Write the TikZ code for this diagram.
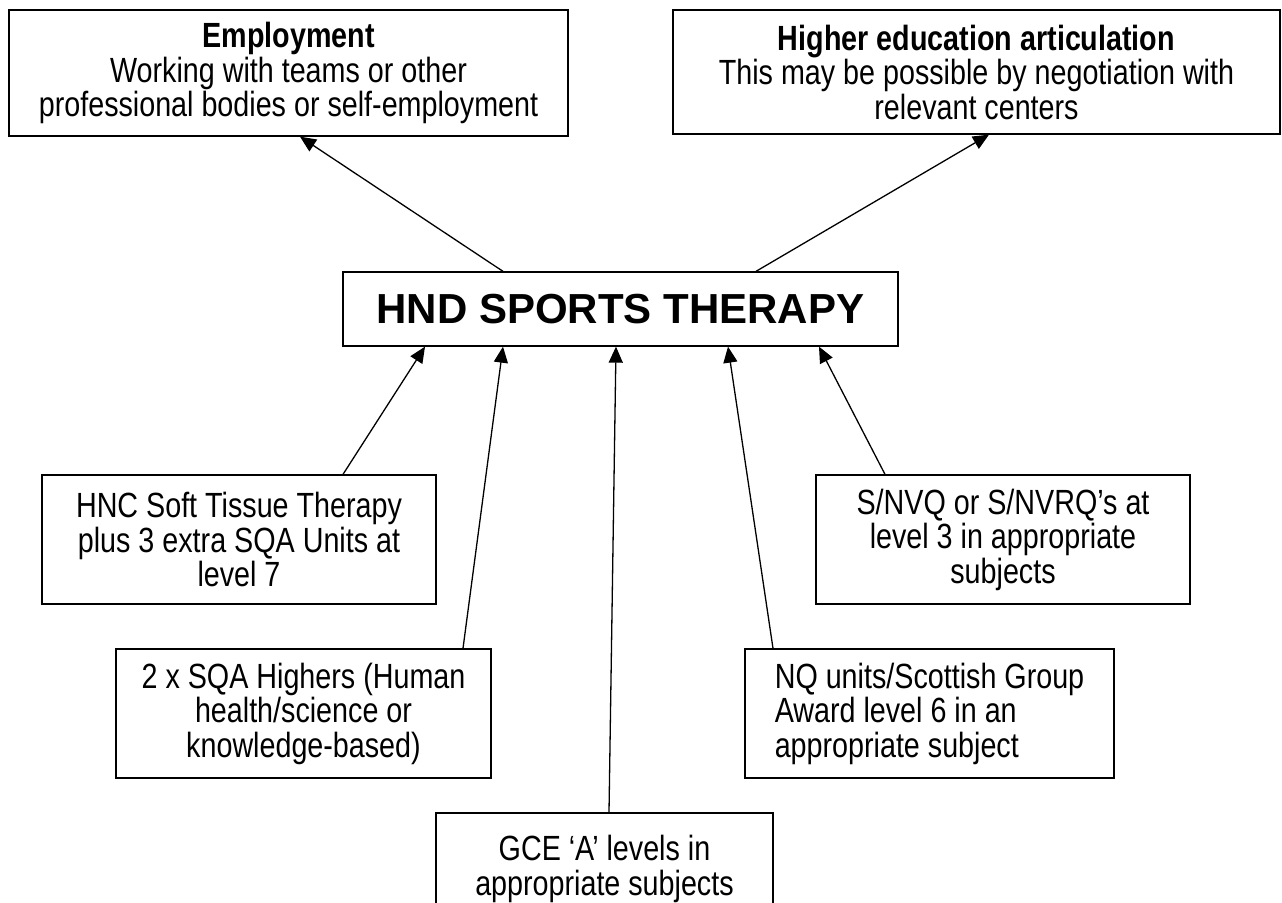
\documentclass[tikz,border=0pt]{standalone}
\usepackage{fontspec}
\setmainfont{Liberation Sans}
\newfontfamily\schmal{Liberation Sans}[FakeStretch=0.82]
\usetikzlibrary{arrows.meta}
\newcommand{\textgr}{\schmal\fontsize{35}{34.5}\selectfont}
\newcommand{\titelgr}{\fontsize{42}{48}\selectfont\bfseries}
\tikzset{
  kasten/.style={draw, line width=1.3pt, inner sep=0pt, align=center, font=\textgr},
  pfeil/.style={line width=1.3pt, -{Triangle[length=16pt,width=14pt]}}
}
\begin{document}
\begin{tikzpicture}[x=1pt,y=-1pt]
            \useasboundingbox (0,0) rectangle (1282,902);
            \clip (0,0) rectangle (1282,902);
            % Ziele
            \node[kasten, minimum width=559pt, minimum height=126pt] (emp) at (288.5,73) {\textbf{Employment}\\Working with teams or other\\professional bodies or self-employment};
            \node[kasten, minimum width=607pt, minimum height=124pt] (hea) at (976.5,72) {\textbf{Higher education articulation}\\This may be possible by negotiation with\\relevant centers};
            % HND
            \node[kasten, minimum width=555pt, minimum height=74pt, font=\titelgr] (hnd) at (620.5,309) {HND SPORTS THERAPY};
            % Zugang
            \node[kasten, minimum width=394pt, minimum height=129pt] (hnc) at (239,539.5) {HNC Soft Tissue Therapy\\plus 3 extra SQA Units at\\level 7};
            \node[kasten, minimum width=374pt, minimum height=129pt] (snvq) at (1003,539.5) {S/NVQ or S/NVRQ’s at\\level 3 in appropriate\\subjects};
            \node[kasten, minimum width=375pt, minimum height=129pt] (sqa) at (303.5,713.5) {2 x SQA Highers (Human\\health/science or\\knowledge-based)};
            \node[kasten, align=left, minimum width=369pt, minimum height=129pt] (nq) at (929.5,713.5) {NQ units/Scottish Group\\Award level 6 in an\\appropriate subject};
            \node[kasten, minimum width=337pt, minimum height=112pt] (gce) at (604.5,869) {GCE ‘A’ levels in\\appropriate subjects};
            % Pfeile nach oben
            \draw[pfeil] ([xshift=-117.5pt]hnd.north) -- ([xshift=11.5pt]emp.south);
            \draw[pfeil] ([xshift=135.5pt]hnd.north) -- ([xshift=12.5pt]hea.south);
            % Pfeile zum HND
            \draw[pfeil] ([xshift=104pt]hnc.north) -- ([xshift=-195.5pt]hnd.south);
            \draw[pfeil] ([xshift=159.5pt]sqa.north) -- ([xshift=-117.5pt]hnd.south);
            \draw[pfeil] ([xshift=4.5pt]gce.north) -- ([xshift=-4.5pt]hnd.south);
            \draw[pfeil] ([xshift=-156.5pt]nq.north) -- ([xshift=107.5pt]hnd.south);
            \draw[pfeil] ([xshift=-118pt]snvq.north) -- ([xshift=198.5pt]hnd.south);
\end{tikzpicture}
\end{document}
